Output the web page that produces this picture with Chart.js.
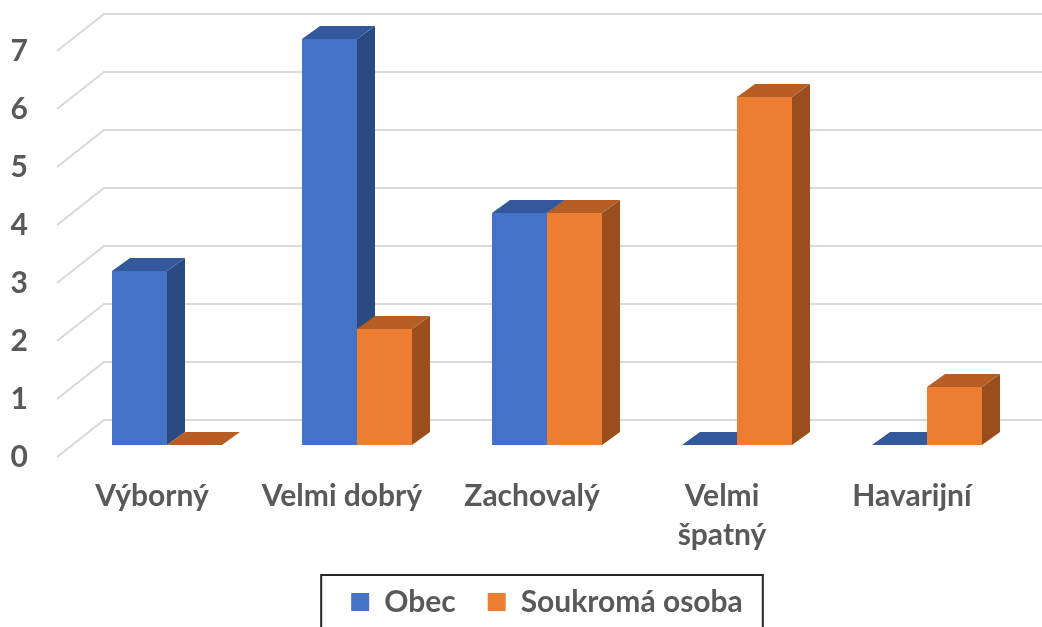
<!DOCTYPE html>
<html>
<head>
<meta charset="utf-8">
<script src="https://cdn.jsdelivr.net/npm/chart.js@4.4.1/dist/chart.umd.min.js"></script>
<style>
html,body{margin:0;padding:0;background:#fff;}
</style>
</head>
<body>
<canvas id="stavChart" width="1042" height="627"></canvas>
<script>
const categories = ['Výborný', 'Velmi dobrý', 'Zachovalý', ['Velmi', 'špatný'], 'Havarijní'];
const seriesNames = ['Obec', 'Soukromá osoba'];
const obecValues = [3, 7, 4, 0, 0];
const soukromaValues = [0, 2, 4, 6, 1];
const yTicks = [0, 1, 2, 3, 4, 5, 6, 7];

const faceColors = [
    {front: '#4472C4', top: '#33589C', side: '#2B4A82'},
    {front: '#ED7D31', top: '#B75E25', side: '#9A4E1E'}
];

// oblique offsets of the 3D box (front floor edge, back wall, bar depth)
const FRONT = {dx: -15, dy: 12};
const BACK = {dx: 32, dy: -25};
const DEPTH = {dx: 18, dy: -13};

const labelFont = {family: 'Lato', size: 30, weight: 'bold', lineHeight: 1.3};
const textColor = '#595959';

const wallGrid = {
    id: 'wallGrid',
    beforeDatasetsDraw(chart) {
        const ctx = chart.ctx;
        const y = chart.scales.y;
        const area = chart.chartArea;
        ctx.save();
        ctx.strokeStyle = '#D9D9D9';
        ctx.lineWidth = 2;
        yTicks.forEach(v => {
            const py = y.getPixelForValue(v);
            ctx.beginPath();
            ctx.moveTo(area.left + FRONT.dx, py + FRONT.dy);
            ctx.lineTo(area.left + BACK.dx, py + BACK.dy);
            ctx.lineTo(area.right + BACK.dx, py + BACK.dy);
            ctx.stroke();
        });
        ctx.restore();
    }
};

function poly(ctx, pts, color) {
    ctx.fillStyle = color;
    ctx.beginPath();
    ctx.moveTo(pts[0][0], pts[0][1]);
    pts.slice(1).forEach(p => ctx.lineTo(p[0], p[1]));
    ctx.closePath();
    ctx.fill();
}

// repaint bars as boxes, category by category so faces overlap right
const bars3d = {
    id: 'bars3d',
    afterDatasetsDraw(chart) {
        const ctx = chart.ctx;
        const metas = seriesNames.map((n, i) => chart.getDatasetMeta(i));
        ctx.save();
        categories.forEach((c, j) => {
            metas.forEach((meta, i) => {
                const bar = meta.data[j];
                const p = bar.getProps(['x', 'y', 'base', 'width'], true);
                const x0 = p.x - p.width / 2;
                const x1 = p.x + p.width / 2;
                const top = Math.min(p.y, p.base);
                const bot = Math.max(p.y, p.base);
                const col = faceColors[i];
                poly(ctx, [[x0, top], [x1, top], [x1, bot], [x0, bot]], col.front);
                poly(ctx, [[x1, top], [x1 + DEPTH.dx, top + DEPTH.dy], [x1 + DEPTH.dx, bot + DEPTH.dy], [x1, bot]], col.side);
                poly(ctx, [[x0, top], [x1, top], [x1 + DEPTH.dx, top + DEPTH.dy], [x0 + DEPTH.dx, top + DEPTH.dy]], col.top);
            });
        });
        ctx.restore();
    }
};

const legendFrame = {
    id: 'legendFrame',
    afterDraw(chart) {
        const hb = chart.legend.legendHitBoxes;
        if (!hb || !hb.length) return;
        const first = hb[0];
        const last = hb[hb.length - 1];
        const cy = first.top + first.height / 2;
        const left = first.left - 30;
        const right = last.left + last.width + 20;
        const ctx = chart.ctx;
        ctx.save();
        ctx.strokeStyle = '#262626';
        ctx.lineWidth = 2;
        ctx.strokeRect(left, cy - 27, right - left, 80);
        ctx.restore();
    }
};

new Chart(document.getElementById('stavChart'), {
    type: 'bar',
    data: {
        labels: categories,
        datasets: [
            {label: seriesNames[0], data: obecValues, backgroundColor: faceColors[0].front, borderWidth: 0},
            {label: seriesNames[1], data: soukromaValues, backgroundColor: faceColors[1].front, borderWidth: 0}
        ]
    },
    options: {
        responsive: false,
        animation: false,
        layout: {padding: {left: 0, right: 20, top: 39, bottom: 0}},
        datasets: {bar: {categoryPercentage: 0.579, barPercentage: 1}},
        plugins: {
            legend: {
                position: 'bottom',
                fullSize: false,
                labels: {font: labelFont, color: textColor, boxWidth: 18, boxHeight: 18, padding: 32}
            },
            tooltip: {enabled: false}
        },
        scales: {
            x: {
                grid: {display: false, drawTicks: false},
                border: {display: false},
                ticks: {font: labelFont, color: textColor, labelOffset: -15, padding: 32, maxRotation: 0, autoSkip: false},
                afterFit(s) { s.height = 110; }
            },
            y: {
                min: 0,
                max: 7,
                grid: {display: false, drawTicks: false},
                border: {display: false},
                ticks: {stepSize: 1, font: labelFont, color: textColor, labelOffset: 12, padding: 44},
                afterFit(s) {
                    s.width = 72;
                    s.paddingTop = 0;
                    s.paddingBottom = 0;
                }
            }
        }
    },
    plugins: [wallGrid, bars3d, legendFrame]
});
</script>
</body>
</html>
